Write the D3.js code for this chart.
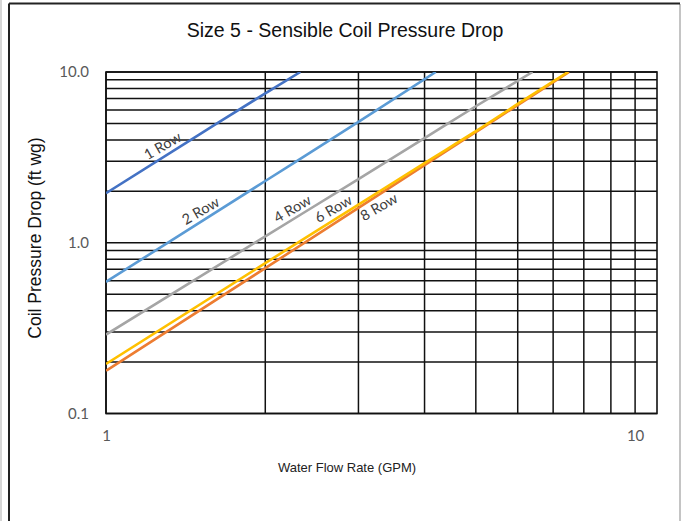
<!DOCTYPE html>
<html>
<head>
<meta charset="utf-8">
<script src="https://cdn.jsdelivr.net/npm/d3@7"></script>
<style>
  body { margin: 0; background: #fff; }
</style>
</head>
<body>
<div id="chart"></div>
<script>
// chart values
const title = "Size 5 - Sensible Coil Pressure Drop";
const xTitle = "Water Flow Rate (GPM)";
const yTitle = "Coil Pressure Drop (ft wg)";

const xTicks = [1, 10];
const yTicks = [0.1, 1, 10];
const xGrid = [1, 2, 3, 4, 5, 6, 7, 8, 9, 10];
const yGrid = [0.1, 0.2, 0.3, 0.4, 0.5, 0.6, 0.7, 0.8, 0.9,
               1, 2, 3, 4, 5, 6, 7, 8, 9, 10];

const seriesNames = ["1 Row", "2 Row", "4 Row", "6 Row", "8 Row"];
const seriesColors = ["#4472C4", "#5B9BD5", "#A5A5A5", "#ED7D31", "#FFC000"];

// flow (GPM), pressure drop (ft wg)
const row1 = [[1, 1.95], [1.5, 4.3], [2, 7.5], [2.33, 10]];
const row2 = [[1, 0.59], [2, 2.3], [3, 5.1], [4.2, 10]];
const row4 = [[1, 0.29], [2, 1.09], [3, 2.36], [4, 4.1], [5, 6.3], [6.4, 10]];
const row6 = [[1, 0.178], [2, 0.71], [3, 1.6], [4, 2.85], [5, 4.45], [6, 6.4], [7.5, 10]];
const row8 = [[1, 0.195], [2, 0.76], [3, 1.67], [4, 2.93], [5, 4.5], [6, 6.5], [7.47, 10]];
const seriesData = [row1, row2, row4, row6, row8];

// where each row label sits (flow, pressure drop)
const labelAt = [[1.28, 3.7], [1.51, 1.54], [2.25, 1.58], [2.69, 1.58], [3.28, 1.62]];

const W = 681, H = 521;
const plot = { left: 106, right: 657, top: 72, bottom: 413.5 };

const svg = d3.select("#chart").append("svg")
  .attr("width", W)
  .attr("height", H);

// frame around the whole picture
svg.append("line").attr("x1", 1).attr("x2", 1).attr("y1", 0).attr("y2", H)
  .attr("stroke", "#c8c8c8").attr("stroke-width", 1.5);
svg.append("line").attr("x1", 680).attr("x2", 680).attr("y1", 4).attr("y2", H)
  .attr("stroke", "#b0b0b0").attr("stroke-width", 1.5);
svg.append("line").attr("x1", 9).attr("x2", 9).attr("y1", 3.5).attr("y2", H)
  .attr("stroke", "#222").attr("stroke-width", 2);
svg.append("line").attr("x1", 9).attr("x2", 680).attr("y1", 3.5).attr("y2", 3.5)
  .attr("stroke", "#222").attr("stroke-width", 2);

const x = d3.scaleLog().domain([1, 11]).range([plot.left, plot.right]);
const y = d3.scaleLog().domain([0.1, 10]).range([plot.bottom, plot.top]);

// grid
const grid = svg.append("g");
grid.selectAll("line.h")
  .data(yGrid)
  .enter().append("line")
  .attr("class", "h")
  .attr("x1", plot.left).attr("x2", plot.right)
  .attr("y1", d => y(d)).attr("y2", d => y(d))
  .attr("stroke", "#111").attr("stroke-width", 1.5);
grid.selectAll("line.v")
  .data(xGrid)
  .enter().append("line")
  .attr("class", "v")
  .attr("x1", d => x(d)).attr("x2", d => x(d))
  .attr("y1", plot.top).attr("y2", plot.bottom)
  .attr("stroke", "#111").attr("stroke-width", 1.5);
grid.append("rect")
  .attr("x", plot.left).attr("y", plot.top)
  .attr("width", plot.right - plot.left)
  .attr("height", plot.bottom - plot.top)
  .attr("fill", "none").attr("stroke", "#111").attr("stroke-width", 1.6);

// series lines
svg.append("clipPath").attr("id", "clip")
  .append("rect")
  .attr("x", plot.left).attr("y", plot.top)
  .attr("width", plot.right - plot.left)
  .attr("height", plot.bottom - plot.top);

const line = d3.line()
  .x(d => x(d[0]))
  .y(d => y(d[1]))
  .curve(d3.curveMonotoneX);

svg.append("g").attr("clip-path", "url(#clip)")
  .selectAll("path")
  .data(seriesData)
  .enter().append("path")
  .attr("d", line)
  .attr("fill", "none")
  .attr("stroke", (d, i) => seriesColors[i])
  .attr("stroke-width", 2.6);

// row labels
svg.append("g")
  .selectAll("text")
  .data(seriesNames)
  .enter().append("text")
  .attr("transform", (d, i) =>
    `translate(${x(labelAt[i][0])},${y(labelAt[i][1])}) rotate(-30)`)
  .attr("text-anchor", "middle")
  .attr("dy", "0.35em")
  .style("font-family", "Lato, 'Open Sans', sans-serif")
  .style("font-size", "14.5px")
  .attr("fill", "#404040")
  .text(d => d);

// axes labels
const yAxis = d3.axisLeft(y)
  .tickValues(yTicks)
  .tickFormat(d3.format(".1f"))
  .tickSize(0)
  .tickPadding(17);
svg.append("g")
  .attr("transform", `translate(${plot.left},0)`)
  .call(yAxis)
  .call(g => g.select(".domain").remove())
  .selectAll("text")
  .style("font-family", "Lato, 'Open Sans', sans-serif")
  .style("font-size", "15px")
  .attr("fill", "#595959");

const xAxis = d3.axisBottom(x)
  .tickValues(xTicks)
  .tickFormat(d3.format("d"))
  .tickSize(0)
  .tickPadding(17);
svg.append("g")
  .attr("transform", `translate(0,${plot.bottom})`)
  .call(xAxis)
  .call(g => g.select(".domain").remove())
  .selectAll("text")
  .style("font-family", "Lato, 'Open Sans', sans-serif")
  .style("font-size", "15px")
  .attr("fill", "#595959");

// titles
svg.append("text")
  .attr("x", 345)
  .attr("y", 37)
  .attr("text-anchor", "middle")
  .style("font-family", "'Liberation Sans', Arial, sans-serif")
  .style("font-size", "19.5px")
  .attr("fill", "#111")
  .text(title);

svg.append("text")
  .attr("x", 347)
  .attr("y", 472)
  .attr("text-anchor", "middle")
  .style("font-family", "'Liberation Sans', Arial, sans-serif")
  .style("font-size", "13px")
  .attr("fill", "#222")
  .text(xTitle);

svg.append("text")
  .attr("transform", "translate(41,238) rotate(-90)")
  .attr("text-anchor", "middle")
  .style("font-family", "'Liberation Sans', Arial, sans-serif")
  .style("font-size", "17.5px")
  .attr("fill", "#111")
  .text(yTitle);
</script>
</body>
</html>
